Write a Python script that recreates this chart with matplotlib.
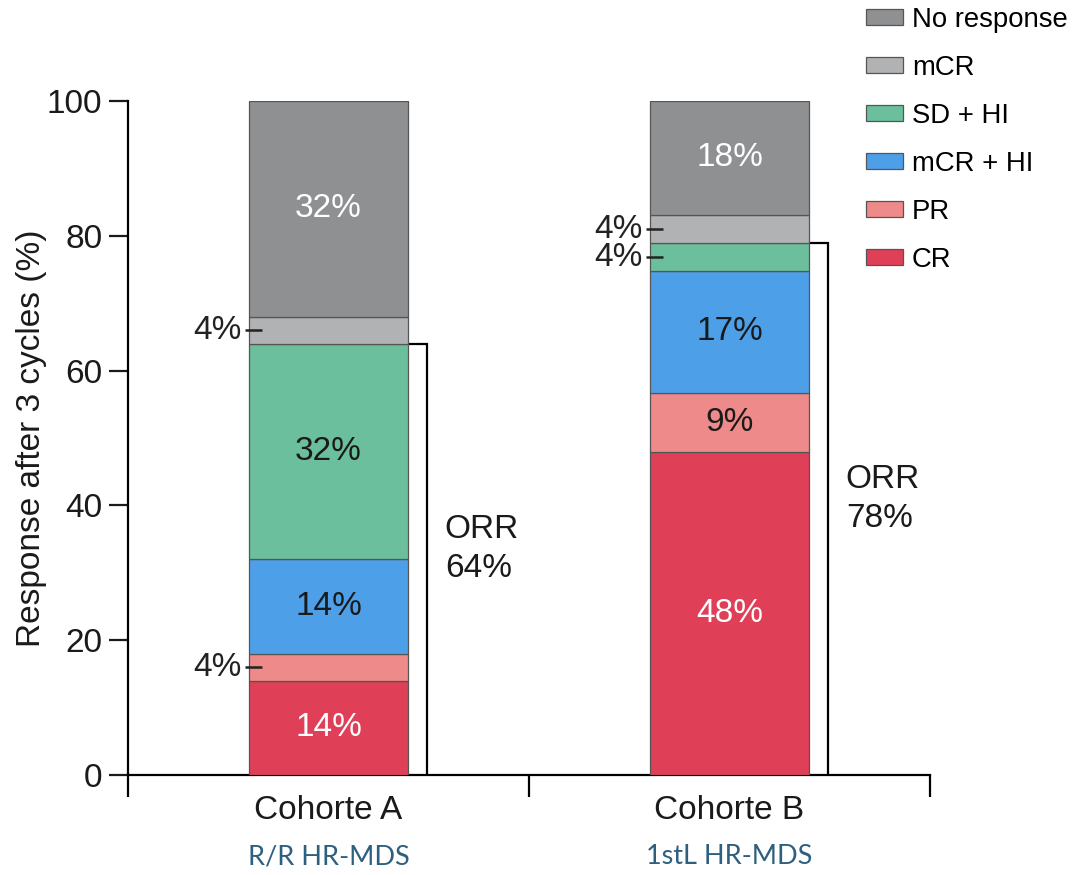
import matplotlib
matplotlib.use("Agg")
import matplotlib.pyplot as plt
import numpy as np
from matplotlib.patches import Patch

plt.rcParams['font.family'] = ['Liberation Sans', 'DejaVu Sans']

# ---- data ----
cohorts = ["Cohorte A", "Cohorte B"]
subtitles = ["R/R HR-MDS", "1stL HR-MDS"]
categories = ["CR", "PR", "mCR + HI", "SD + HI", "mCR", "No response"]
# segment heights
cohort_a = [14, 4, 14, 32, 4, 32]
cohort_b = [47.9, 8.8, 18.1, 4.1, 4.2, 16.9]
# percentages printed on the bars
labels_a = ["14%", "4%", "14%", "32%", "4%", "32%"]
labels_b = ["48%", "9%", "17%", "4%", "4%", "18%"]
orr_labels = ["64%", "78%"]
n_responses = 4  # CR, PR, mCR + HI, SD + HI form the ORR bracket
colors = ["#e03f58", "#ee8a8a", "#4da0e8", "#6bbf9d", "#b1b2b4", "#8f9092"]
# label colour for in-bar labels (None = label outside with dash)
label_col_a = ["white", None, "#1a1a1a", "#1a1a1a", None, "white"]
label_col_b = ["white", "#1a1a1a", "#1a1a1a", None, None, "white"]

fig = plt.figure(figsize=(10.8, 8.75), dpi=100)
ax = fig.add_axes([128/1080, 1-775/875, (930-128)/1080, (775-101)/875])

x_pos = np.array([0.5, 1.5])
bar_w = 0.396
bracket_ext = 0.047
FS = 24

for xi, vals, labs, lcols, orr in zip(x_pos, [cohort_a, cohort_b],
                                       [labels_a, labels_b],
                                       [label_col_a, label_col_b], orr_labels):
    bottom = 0
    for v, c, lab, lc in zip(vals, colors, labs, lcols):
        ax.bar(xi, v, bottom=bottom, width=bar_w, color=c, edgecolor="#555555",
               linewidth=0.9, zorder=3)
        mid = bottom + v / 2
        if lc is not None:
            ax.text(xi, mid, lab, ha="center", va="center", fontsize=FS,
                    color=lc, zorder=5)
        else:
            left = xi - bar_w / 2
            ax.plot([left - 0.01, left + 0.033], [mid, mid], color="#222222",
                    lw=1.8, zorder=6, solid_capstyle="butt")
            ax.text(left - 0.018, mid, lab, ha="right", va="center",
                    fontsize=FS, color="#222222", zorder=5)
        bottom += v
    top = sum(vals[:n_responses])
    right = xi + bar_w / 2
    bx = right + bracket_ext
    ax.plot([right, bx, bx], [top, top, 0], color="black", lw=1.6, zorder=2,
            solid_joinstyle="miter")
    ax.text(bx + 0.045, top / 2 + 1.5, f"ORR\n{orr}", ha="left", va="center",
            fontsize=FS, color="#1a1a1a", linespacing=1.35)

ax.set_xlim(0, 2)
ax.set_ylim(0, 100)
ax.set_yticks([0, 20, 40, 60, 80, 100])
ax.set_xticks([0, 1, 2])
ax.set_xticklabels([])
ax.tick_params(axis="y", direction="out", length=13.5, width=1.6, labelsize=FS,
               pad=5, colors="#1a1a1a")
ax.tick_params(axis="x", direction="out", length=16, width=1.6)
for s in ["top", "right"]:
    ax.spines[s].set_visible(False)
for s in ["left", "bottom"]:
    ax.spines[s].set_linewidth(1.6)
ax.set_ylabel("Response after 3 cycles (%)", fontsize=FS, color="#1a1a1a",
              labelpad=0)

for xi, name, sub in zip(x_pos, cohorts, subtitles):
    ax.text(xi, -0.052, name, transform=ax.get_xaxis_transform(), ha="center",
            va="center", fontsize=FS, color="#1a1a1a")
    ax.text(xi, -0.121, sub, transform=ax.get_xaxis_transform(), ha="center",
            va="center", fontsize=19.5, color="#2d5f7f", family=["Lato", "DejaVu Sans"])

handles = [Patch(facecolor=c, edgecolor="#555555", linewidth=0.9, label=l)
           for c, l in zip(colors, categories)][::-1]
fig.legend(handles=handles, loc="upper left", bbox_to_anchor=(866/1080, 0.992),
           frameon=False, fontsize=19.8, handlelength=1.35, handleheight=0.5,
           handletextpad=0.32, labelspacing=0.8, borderpad=0, borderaxespad=0)

fig.savefig("out.png", dpi=100)
